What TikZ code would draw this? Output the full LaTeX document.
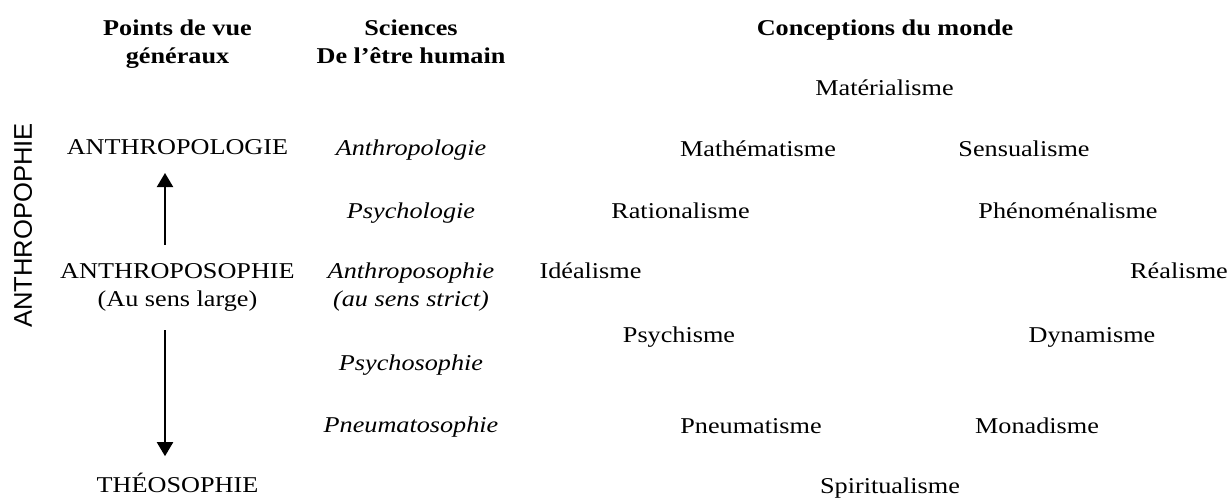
\documentclass[tikz,border=0pt]{standalone}
\usepackage{fontspec}
\setmainfont{Liberation Serif}[FakeStretch=1.16]
\newfontfamily\sidefont{Liberation Sans}
\usetikzlibrary{arrows.meta}
\begin{document}
\begin{tikzpicture}[x=0.5pt,y=-0.5pt,
  lbl/.style={inner sep=0pt, anchor=base, font=\fontsize{11.3}{13.6}\selectfont, text height=8pt, text depth=3pt},
  head/.style={lbl, font=\fontsize{11.3}{13.6}\selectfont\bfseries},
  sci/.style={lbl, font=\fontsize{11.3}{13.6}\selectfont\itshape},
  arr/.style={line width=1pt, -{Triangle[width=8pt,length=7pt]}}]
\useasboundingbox (0,0) rectangle (1231,498);
% headers
\node[head] (h1a) at (177.5,35) {Points de vue};
\node[head] (h1b) at (177.5,63) {généraux};
\node[head] (h2a) at (411,35) {Sciences};
\node[head] (h2b) at (411,63) {De l’être humain};
\node[head] (h3) at (885,35) {Conceptions du monde};
% side label
\node[lbl, font=\sidefont\fontsize{12.8}{15}\selectfont, rotate=90] (side) at (32,225.5) {ANTHROPOPHIE};
% general points of view
\node[lbl] (al) at (177.5,154) {ANTHROPOLOGIE};
\node[lbl] (ap1) at (177.5,278) {ANTHROPOSOPHIE};
\node[lbl] (ap2) at (177.5,306) {(Au sens large)};
\node[lbl] (th) at (177.5,492) {THÉOSOPHIE};
% sciences
\node[sci] (s1) at (411,155) {Anthropologie};
\node[sci] (s2) at (411,218) {Psychologie};
\node[sci] (s3a) at (411,278) {Anthroposophie};
\node[sci] (s3b) at (411,306) {(au sens strict)};
\node[sci] (s4) at (411,370) {Psychosophie};
\node[sci] (s5) at (411,432) {Pneumatosophie};
% world conceptions
\node[lbl] (mat) at (884.5,95) {Matérialisme};
\node[lbl] (math) at (758,156) {Mathématisme};
\node[lbl] (sens) at (1024,156) {Sensualisme};
\node[lbl] (rat) at (680.5,218) {Rationalisme};
\node[lbl] (phen) at (1068,218) {Phénoménalisme};
\node[lbl] (ide) at (590.5,278) {Idéalisme};
\node[lbl] (rea) at (1179,278) {Réalisme};
\node[lbl] (psy) at (679,342) {Psychisme};
\node[lbl] (dyn) at (1092,342) {Dynamisme};
\node[lbl] (pneu) at (751,433) {Pneumatisme};
\node[lbl] (mon) at (1037,433) {Monadisme};
\node[lbl] (spi) at (890,493) {Spiritualisme};
% arrows
\draw[arr, shorten <=8.5pt, shorten >=6.3pt] ([xshift=-6.25pt]ap1.north) -- ([xshift=-6.25pt]al.south);
\draw[arr, shorten <=9pt, shorten >=9.7pt] ([xshift=-6.25pt]ap2.south) -- ([xshift=-6.25pt]th.north);
\end{tikzpicture}
\end{document}
